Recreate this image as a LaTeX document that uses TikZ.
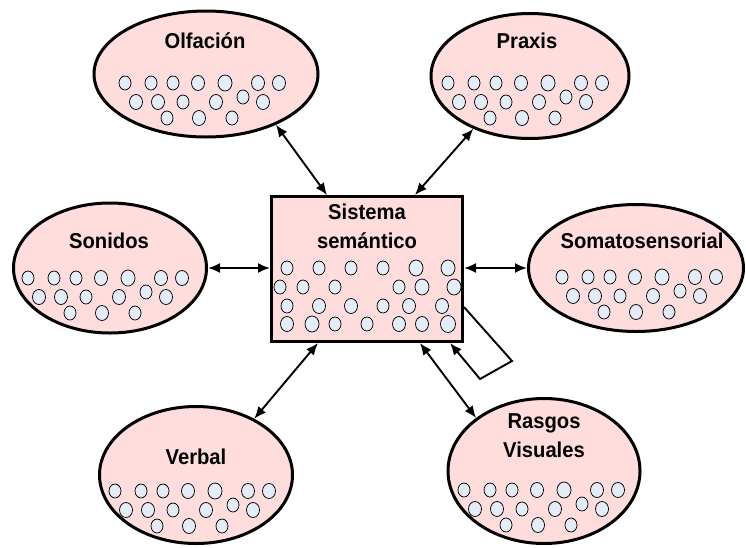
\documentclass[tikz,border=0pt]{standalone}
\usepackage{fontspec}
\setmainfont{Liberation Sans}[FakeStretch=0.94]
\usetikzlibrary{shapes.geometric,arrows.meta,calc}
\definecolor{pinkfill}{RGB}{255,221,221}
\definecolor{dotfill}{RGB}{228,236,247}
\newcommand\moddots[2]{%
  \foreach \dx/\dy/\r in {-81/0/6,-55/0/6,-33/0/6,-8/0/6.5,19/0/7,52/0/6.5,73/0/6.5,
     -70/19/6.5,-48/19/6.5,-23/19/6,10/19/6.5,37/14/6,57/19/6.5,
     -39/35/6,-7/35/6.5,26/35/6}
    \draw[dot] ({#1+\dx},{#2+\dy}) ellipse [x radius=\r pt, y radius=\r pt+1pt];%
}
\begin{document}
\begin{tikzpicture}[x=1pt,y=-1pt,
  mod/.style={ellipse,draw,line width=3pt,fill=pinkfill,inner sep=0pt},
  sysbox/.style={rectangle,draw,line width=3pt,fill=pinkfill,inner sep=0pt},
  lbl/.style={font=\bfseries\fontsize{21.5}{27}\selectfont,inner sep=0pt,anchor=base},
  link/.style={line width=1.9pt,{Latex[length=12pt,width=10pt]}-{Latex[length=12pt,width=10pt]}},
  loopline/.style={line width=1.9pt,-{Latex[length=12pt,width=10pt]}},
  dot/.style={draw,line width=0.75pt,fill=dotfill}]
\useasboundingbox (0,0) rectangle (746,547);

% modules
\node[mod,minimum width=224pt,minimum height=126pt] (olf) at (206,74) {};
\node[mod,minimum width=198pt,minimum height=125pt] (prax) at (530,76) {};
\node[mod,minimum width=193pt,minimum height=130pt] (son) at (110,268) {};
\node[mod,minimum width=215pt,minimum height=127pt] (soma) at (636,268) {};
\node[mod,minimum width=193pt,minimum height=137pt] (verb) at (196,475) {};
\node[mod,minimum width=192pt,minimum height=145pt] (ras) at (544,471) {};
\node[sysbox,minimum width=191pt,minimum height=145pt] (sys) at (367,269) {};

% labels
\node[lbl] (olft) at (205,48) {Olfación};
\node[lbl] (praxt) at (527,48) {Praxis};
\node[lbl] (sont) at (109,248) {Sonidos};
\node[lbl] (somat) at (642,248) {Somatosensorial};
\node[lbl] (verbt) at (196,464) {Verbal};
\node[lbl] (rast1) at (544,428) {Rasgos};
\node[lbl] (rast2) at (544,457) {Visuales};
\node[lbl] (syst1) at (367,219) {Sistema};
\node[lbl] (syst2) at (367,248) {semántico};

% dots
\moddots{206}{83}
\moddots{529}{83}
\moddots{109}{278}
\moddots{643}{277}
\moddots{196}{491}
\moddots{545}{490}
\foreach \x/\y/\r in {287/268/6,319/268/6,351/268/6,383/268/6,416/268/7,448/268/7,
   280/287/6,303/287/6,335/287/6,399/287/6,422/287/7,454/287/7,
   287/306/6,319/306/6.5,351/306/6.5,383/306/6,409/306/6.5,442/306/6.5,
   287/324/6.5,312/324/7,335/324/6,367/324/6,399/324/6.5,422/324/6.5,448/324/7.5}
  \draw[dot] (\x,\y) ellipse [x radius=\r pt, y radius=\r pt+1pt];

% connectors
\draw[link] (olf.-36) -- ($(sys.north west)!0.294!(sys.north east)$);
\draw[link] (prax.223) -- ($(sys.north west)!0.747!(sys.north east)$);
\draw[link] (son.east) -- (son.east -| sys.west);
\draw[link] (soma.west) -- (soma.west -| sys.east);
\draw[link] (verb.44) -- ($(sys.south west)!0.247!(sys.south east)$);
\draw[link] (ras.142.5) -- ($(sys.south west)!0.773!(sys.south east)$);

% self loop
\coordinate (lp1) at (512,361);
\coordinate (lp2) at (480,379);
\draw[loopline] ($(sys.north east)!0.757!(sys.south east)$) -- (lp1) -- (lp2)
  -- ($(sys.south west)!0.928!(sys.south east)$);
\end{tikzpicture}
\end{document}
